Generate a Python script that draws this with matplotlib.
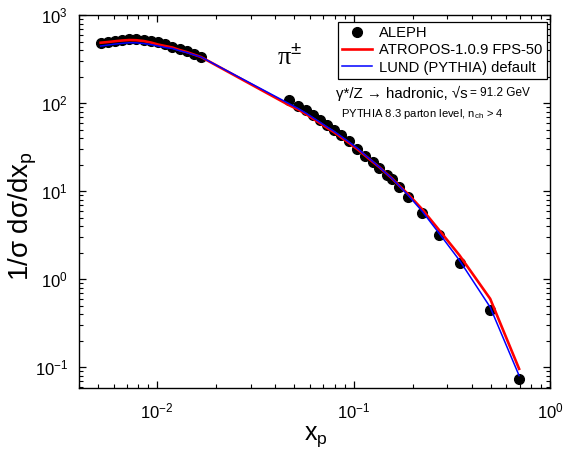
import matplotlib
matplotlib.use("Agg")
import matplotlib.pyplot as plt
from matplotlib.ticker import LogLocator, NullFormatter

plt.rcParams['font.family'] = ['Liberation Sans', 'DejaVu Sans']
plt.rcParams['mathtext.fontset'] = 'custom'
plt.rcParams['mathtext.rm'] = 'Liberation Sans'
plt.rcParams['mathtext.it'] = 'Liberation Sans:italic'

# ALEPH data (xp, 1/sigma dsigma/dxp)
aleph_x = [0.005156, 0.005608, 0.006099, 0.006634, 0.007216, 0.007848, 0.008541,
           0.009290, 0.01011, 0.01099, 0.01196, 0.01301, 0.01415, 0.01539, 0.01674,
           0.04694, 0.05233, 0.05726, 0.06214, 0.06744, 0.07362, 0.07943, 0.08619,
           0.09521, 0.1045, 0.1148, 0.1250, 0.1352, 0.1476, 0.1565, 0.1704, 0.1898,
           0.2235, 0.2733, 0.3464, 0.4960, 0.6962]
aleph_y = [486.7, 499.4, 512.6, 526.2, 540.2, 540.0, 519.4, 506.0, 493.0, 467.9,
           438.1, 410.4, 389.4, 360.1, 332.9,
           107.9, 93.4, 83.0, 72.8, 63.9, 56.1, 49.8, 43.7, 37.3, 30.4, 25.2, 21.3,
           18.2, 15.3, 13.6, 11.1, 8.57, 5.59, 3.14, 1.52, 0.4405, 0.0736]

# Model curves evaluated at the same xp values
atropos_y = [484.2, 493.0, 503.3, 512.8, 519.4, 516.7, 506.0, 486.7, 461.8, 444.0,
             426.9, 399.9, 379.5, 355.3, 332.9,
             94.6, 84.1, 74.8, 66.4, 59.1, 51.8, 46.7, 40.9, 35.0, 29.9, 25.2, 21.5,
             18.7, 15.7, 14.0, 11.6, 9.20, 6.21, 3.58, 1.86, 0.598, 0.0957]
lund_y = [444.0, 455.8, 467.9, 476.4, 484.2, 482.9, 474.0, 461.8, 444.0, 426.9,
          415.9, 392.5, 374.5, 352.6, 332.9,
          98.4, 86.4, 76.8, 68.2, 60.6, 53.2, 47.9, 42.0, 35.9, 30.7, 25.5, 21.8,
          18.7, 15.7, 14.0, 11.5, 8.96, 5.89, 3.29, 1.63, 0.48, 0.0802]

legend_labels = ["ALEPH", "ATROPOS-1.0.9 FPS-50", "LUND (PYTHIA) default"]

W, H = 567, 461
fig = plt.figure(figsize=(W/100, H/100), dpi=100)
ax = fig.add_axes([79/W, 1-388/H, (550-79)/W, (388-15)/H])

ax.plot(aleph_x, aleph_y, 'o', color='black', markersize=7, label=legend_labels[0], zorder=2)
ax.plot(aleph_x, atropos_y, '-', color='#ff0000', lw=1.9, label=legend_labels[1], zorder=3)
ax.plot(aleph_x, lund_y, '-', color='#0000ff', lw=1.1, label=legend_labels[2], zorder=4)

ax.set_xscale('log')
ax.set_yscale('log')
ax.set_xlim(0.004, 1.0)
ax.set_ylim(0.058, 1000)

for axis in (ax.xaxis, ax.yaxis):
    axis.set_major_locator(LogLocator(base=10, numticks=20))
    axis.set_minor_locator(LogLocator(base=10, subs=range(2, 10), numticks=20))
    axis.set_minor_formatter(NullFormatter())

ax.tick_params(which='both', direction='in', top=True, right=True, labelsize=12)
ax.tick_params(which='major', length=5, width=0.9)
ax.tick_params(which='minor', length=3, width=0.8)
ax.tick_params(axis='x', which='major', pad=10)
ax.tick_params(axis='y', which='major', pad=8)
for s in ax.spines.values():
    s.set_linewidth(1.0)

fig.text(316/W, 1-437/H, r"x$_\mathregular{p}$", fontsize=18, ha='center', va='center')
fig.text(23/W, 1-216/H, r"1/σ dσ/dx$_\mathregular{p}$", fontsize=20, rotation=90,
         ha='center', va='center')

leg = ax.legend(loc='upper right', bbox_to_anchor=(546.7/W, 1-21.7/H),
                bbox_transform=fig.transFigure, borderaxespad=0,
                fancybox=False, edgecolor='black', framealpha=1, fontsize=10.6,
                handlelength=2.0, handletextpad=0.5, labelspacing=0.22,
                borderpad=0.3, numpoints=1)
leg.get_frame().set_linewidth(0.9)

fig.text(290/W, 1-57/H, r"π$^{\pm}$", fontsize=19, family='Liberation Serif',
         ha='center', va='center')

t1 = fig.text(336/W, 1-93/H, "γ*/Z → hadronic, √s", fontsize=10.8, ha='left', va='center')
fig.canvas.draw()
bb = t1.get_window_extent()
fig.text(bb.x1/W + 2/W, 1-93/H, "= 91.2 GeV", fontsize=8.5, ha='left', va='center')

fig.text(341/W, 1-114/H, r"PYTHIA 8.3 parton level, n$_\mathregular{ch}$ > 4", fontsize=8.1,
         ha='left', va='center')

fig.savefig("out.png", dpi=100)
